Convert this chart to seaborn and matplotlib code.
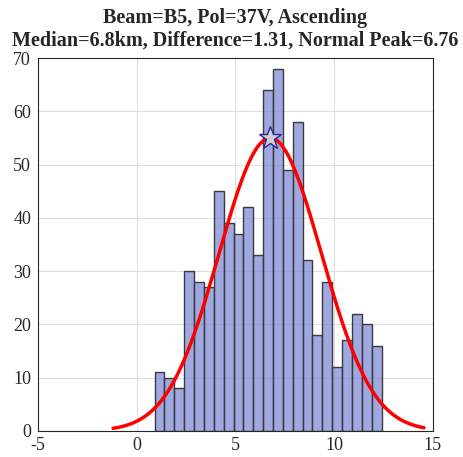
import numpy as np
import pandas as pd
import matplotlib
matplotlib.use("Agg")
import matplotlib.pyplot as plt
import seaborn as sns

# bin layout and counts
bin_start = 0.9
bin_width = 0.5
counts = [11, 10, 8, 30, 28, 27, 45, 39, 37, 42, 33, 64,
          68, 49, 58, 32, 18, 28, 12, 17, 22, 20, 16]

# normal fit parameters
mu = 6.76
sigma = 2.59
curve_range = (-1.2, 14.55)

title = "Beam=B5, Pol=37V, Ascending\nMedian=6.8km, Difference=1.31, Normal Peak=6.76"

bin_end = bin_start + bin_width * len(counts)
centers = bin_start + bin_width * (np.arange(len(counts)) + 0.5)
df = pd.DataFrame({"center": centers, "count": counts})

sns.set_style("white")
plt.rcParams["font.family"] = ["Liberation Serif"]
plt.rcParams["axes.unicode_minus"] = False

fig = plt.figure(figsize=(4.64, 4.57), dpi=100)
ax = fig.add_axes([0.082, 0.057, 0.851, 0.816])

sns.histplot(data=df, x="center", weights="count", binwidth=bin_width,
             binrange=(bin_start, bin_end), ax=ax,
             color="#7f8bd6", alpha=0.75, edgecolor="#3a3a3a", linewidth=1.0)

n = sum(counts)
xs = np.linspace(curve_range[0], curve_range[1], 300)
ys = n * bin_width / (sigma * np.sqrt(2 * np.pi)) * np.exp(-(xs - mu) ** 2 / (2 * sigma ** 2))
sns.lineplot(x=xs, y=ys, color="red", linewidth=2.5, ax=ax)

peak = n * bin_width / (sigma * np.sqrt(2 * np.pi))
ax.plot([mu], [peak], marker="*", markersize=17, markerfacecolor="#d0d0d0",
        markeredgecolor="#2a2a9a", markeredgewidth=1.0, zorder=5)

ax.set_xlim(-5, 15)
ax.set_ylim(0, 70)
ax.set_xticks([-5, 0, 5, 10, 15])
ax.set_yticks(range(0, 71, 10))
ax.grid(True, color="#e0e0e0", linewidth=0.8)
ax.set_axisbelow(True)
ax.set_xlabel("")
ax.set_ylabel("")
ax.tick_params(direction="in", length=3, labelsize=13, colors="#262626", width=0.6)
ax.tick_params(axis="x", pad=4)
ax.tick_params(axis="y", pad=5)
for s in ax.spines.values():
    s.set_color("#262626")
    s.set_linewidth(0.8)

ax.set_title(title, fontsize=14.5, fontweight="bold", linespacing=1.2, pad=9)

fig.savefig("out.png", dpi=100)
